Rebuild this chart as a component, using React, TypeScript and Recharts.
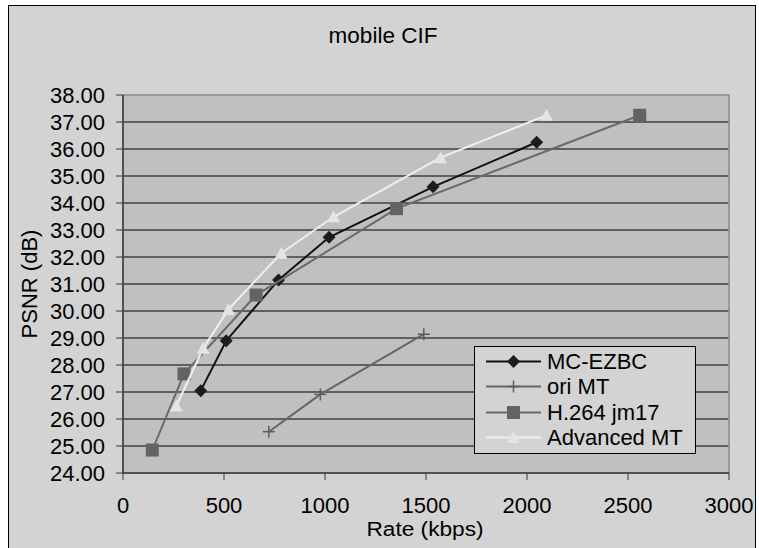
import { ScatterChart, Scatter, XAxis, YAxis, CartesianGrid, Legend, ReferenceArea } from "recharts";

// rate (kbps) / PSNR (dB)
const mcRate = [385, 511, 770, 1020, 1535, 2048];
const mcPsnr = [27.05, 28.9, 31.15, 32.73, 34.6, 36.25];
const oriRate = [722, 977, 1489];
const oriPsnr = [25.53, 26.91, 29.14];
const h264Rate = [145, 302, 659, 1354, 2558];
const h264Psnr = [24.85, 27.67, 30.59, 33.79, 37.25];
const advRate = [264, 397, 522, 783, 1043, 1572, 2097];
const advPsnr = [26.48, 28.62, 30.06, 32.14, 33.49, 35.68, 37.25];

const xTicks = [0, 500, 1000, 1500, 2000, 2500, 3000];
const yTicks = [24, 25, 26, 27, 28, 29, 30, 31, 32, 33, 34, 35, 36, 37, 38];
const gridValues = [25, 26, 27, 28, 29, 30, 31, 32, 33, 34, 35, 36, 37];

const zip = (xs: number[], ys: number[]) => xs.map((x, i) => ({ x, y: ys[i] }));

const FONT = '"Liberation Sans", Arial, sans-serif';

type Kind = "diamond" | "plus" | "square" | "triangle";

function Marker({ kind, cx, cy }: { kind: Kind; cx: number; cy: number }) {
  if (kind === "diamond")
    return <polygon points={`${cx},${cy - 6.5} ${cx + 6.5},${cy} ${cx},${cy + 6.5} ${cx - 6.5},${cy}`} fill="#1c1c1c" />;
  if (kind === "plus")
    return (
      <g stroke="#5c5c5c" strokeWidth={1.5}>
        <line x1={cx - 6} y1={cy} x2={cx + 6} y2={cy} />
        <line x1={cx} y1={cy - 6} x2={cx} y2={cy + 6} />
      </g>
    );
  if (kind === "square") return <rect x={cx - 6.5} y={cy - 6.5} width={13} height={13} fill="#636363" />;
  return <polygon points={`${cx},${cy - 6.5} ${cx + 6.5},${cy + 5.5} ${cx - 6.5},${cy + 5.5}`} fill="#e4e4e4" />;
}

const series = [
  { name: "MC-EZBC", data: zip(mcRate, mcPsnr), stroke: "#111111", kind: "diamond" as Kind },
  { name: "ori MT", data: zip(oriRate, oriPsnr), stroke: "#666666", kind: "plus" as Kind },
  { name: "H.264 jm17", data: zip(h264Rate, h264Psnr), stroke: "#6a6a6a", kind: "square" as Kind },
  { name: "Advanced MT", data: zip(advRate, advPsnr), stroke: "#efefef", kind: "triangle" as Kind },
];

function LegendBox() {
  return (
    <div
      style={{
        width: 222,
        height: 108,
        boxSizing: "border-box",
        border: "1px solid #000",
        background: "#d3d3d3",
        paddingTop: 2,
        fontFamily: FONT,
        fontSize: 22,
        color: "#000",
      }}
    >
      {series.map((s) => (
        <div key={s.name} style={{ display: "flex", alignItems: "center", height: 25.3 }}>
          <svg width={72} height={25} style={{ flex: "none" }}>
            <line x1={11} y1={12.5} x2={66} y2={12.5} stroke={s.stroke} strokeWidth={2} />
            <Marker kind={s.kind} cx={38.5} cy={12.5} />
          </svg>
          <span style={{ lineHeight: "25px", whiteSpace: "nowrap" }}>{s.name}</span>
        </div>
      ))}
    </div>
  );
}

export default function App() {
  return (
    <div style={{ position: "fixed", left: 0, top: 0, width: 759, height: 548, overflow: "hidden", background: "#fff" }}>
      <div
        style={{
          position: "absolute",
          left: 8,
          top: 5,
          width: 748,
          height: 600,
          boxSizing: "border-box",
          border: "1px solid #000",
          background: "#d3d3d3",
        }}
      />
      <div style={{ position: "absolute", left: 0, top: 0 }}>
        <ScatterChart width={759} height={548} margin={{ top: 95, right: 30, bottom: 0, left: 0 }}>
          <CartesianGrid vertical={false} horizontalValues={gridValues} stroke="#000" fill="#c0c0c0" />
          <ReferenceArea x1={0} x2={3000} y1={24} y2={38} fill="none" stroke="#8a8a8a" strokeWidth={1.5} />
          <XAxis
            type="number"
            dataKey="x"
            domain={[0, 3000]}
            ticks={xTicks}
            height={75}
            axisLine={{ stroke: "#3a3a3a", strokeWidth: 1.5 }}
            tickLine={{ stroke: "#3a3a3a" }}
            tickSize={7}
            tickMargin={17}
            tick={{ fill: "#000", fontSize: 22, fontFamily: FONT }}
            allowDataOverflow
          />
          <YAxis
            type="number"
            dataKey="y"
            domain={[24, 38]}
            ticks={yTicks}
            width={123}
            interval={0}
            axisLine={{ stroke: "#3a3a3a", strokeWidth: 1.5 }}
            tickLine={{ stroke: "#3a3a3a" }}
            tickSize={7}
            tickMargin={11}
            tickFormatter={(v) => Number(v).toFixed(2)}
            tick={{ fill: "#000", fontSize: 22, fontFamily: FONT }}
            allowDataOverflow
          />
          {series.map((s) => (
            <Scatter
              key={s.name}
              name={s.name}
              data={s.data}
              fill={s.stroke}
              line={{ stroke: s.stroke, strokeWidth: 2 }}
              lineType="joint"
              isAnimationActive={false}
              shape={(p: any) => <Marker kind={s.kind} cx={p.cx} cy={p.cy} />}
            />
          ))}
          <Legend
            layout="vertical"
            align="center"
            verticalAlign="middle"
            wrapperStyle={{ left: 474, top: 346, width: 222 }}
            content={() => <LegendBox />}
          />
        </ScatterChart>
      </div>
      <svg width={759} height={548} style={{ position: "absolute", left: 0, top: 0, pointerEvents: "none" }}>
        <text x={383} y={43} textAnchor="middle" fontFamily={FONT} fontSize={22.5} fill="#000">
          mobile CIF
        </text>
        <text
          x={425}
          y={536}
          textAnchor="middle"
          fontFamily={FONT}
          fontSize={20}
          textLength={117}
          lengthAdjust="spacingAndGlyphs"
          fill="#000"
        >
          Rate (kbps)
        </text>
        <text x={37} y={284} textAnchor="middle" fontFamily={FONT} fontSize={22} fill="#000" transform="rotate(-90 37 284)">
          PSNR (dB)
        </text>
      </svg>
    </div>
  );
}
